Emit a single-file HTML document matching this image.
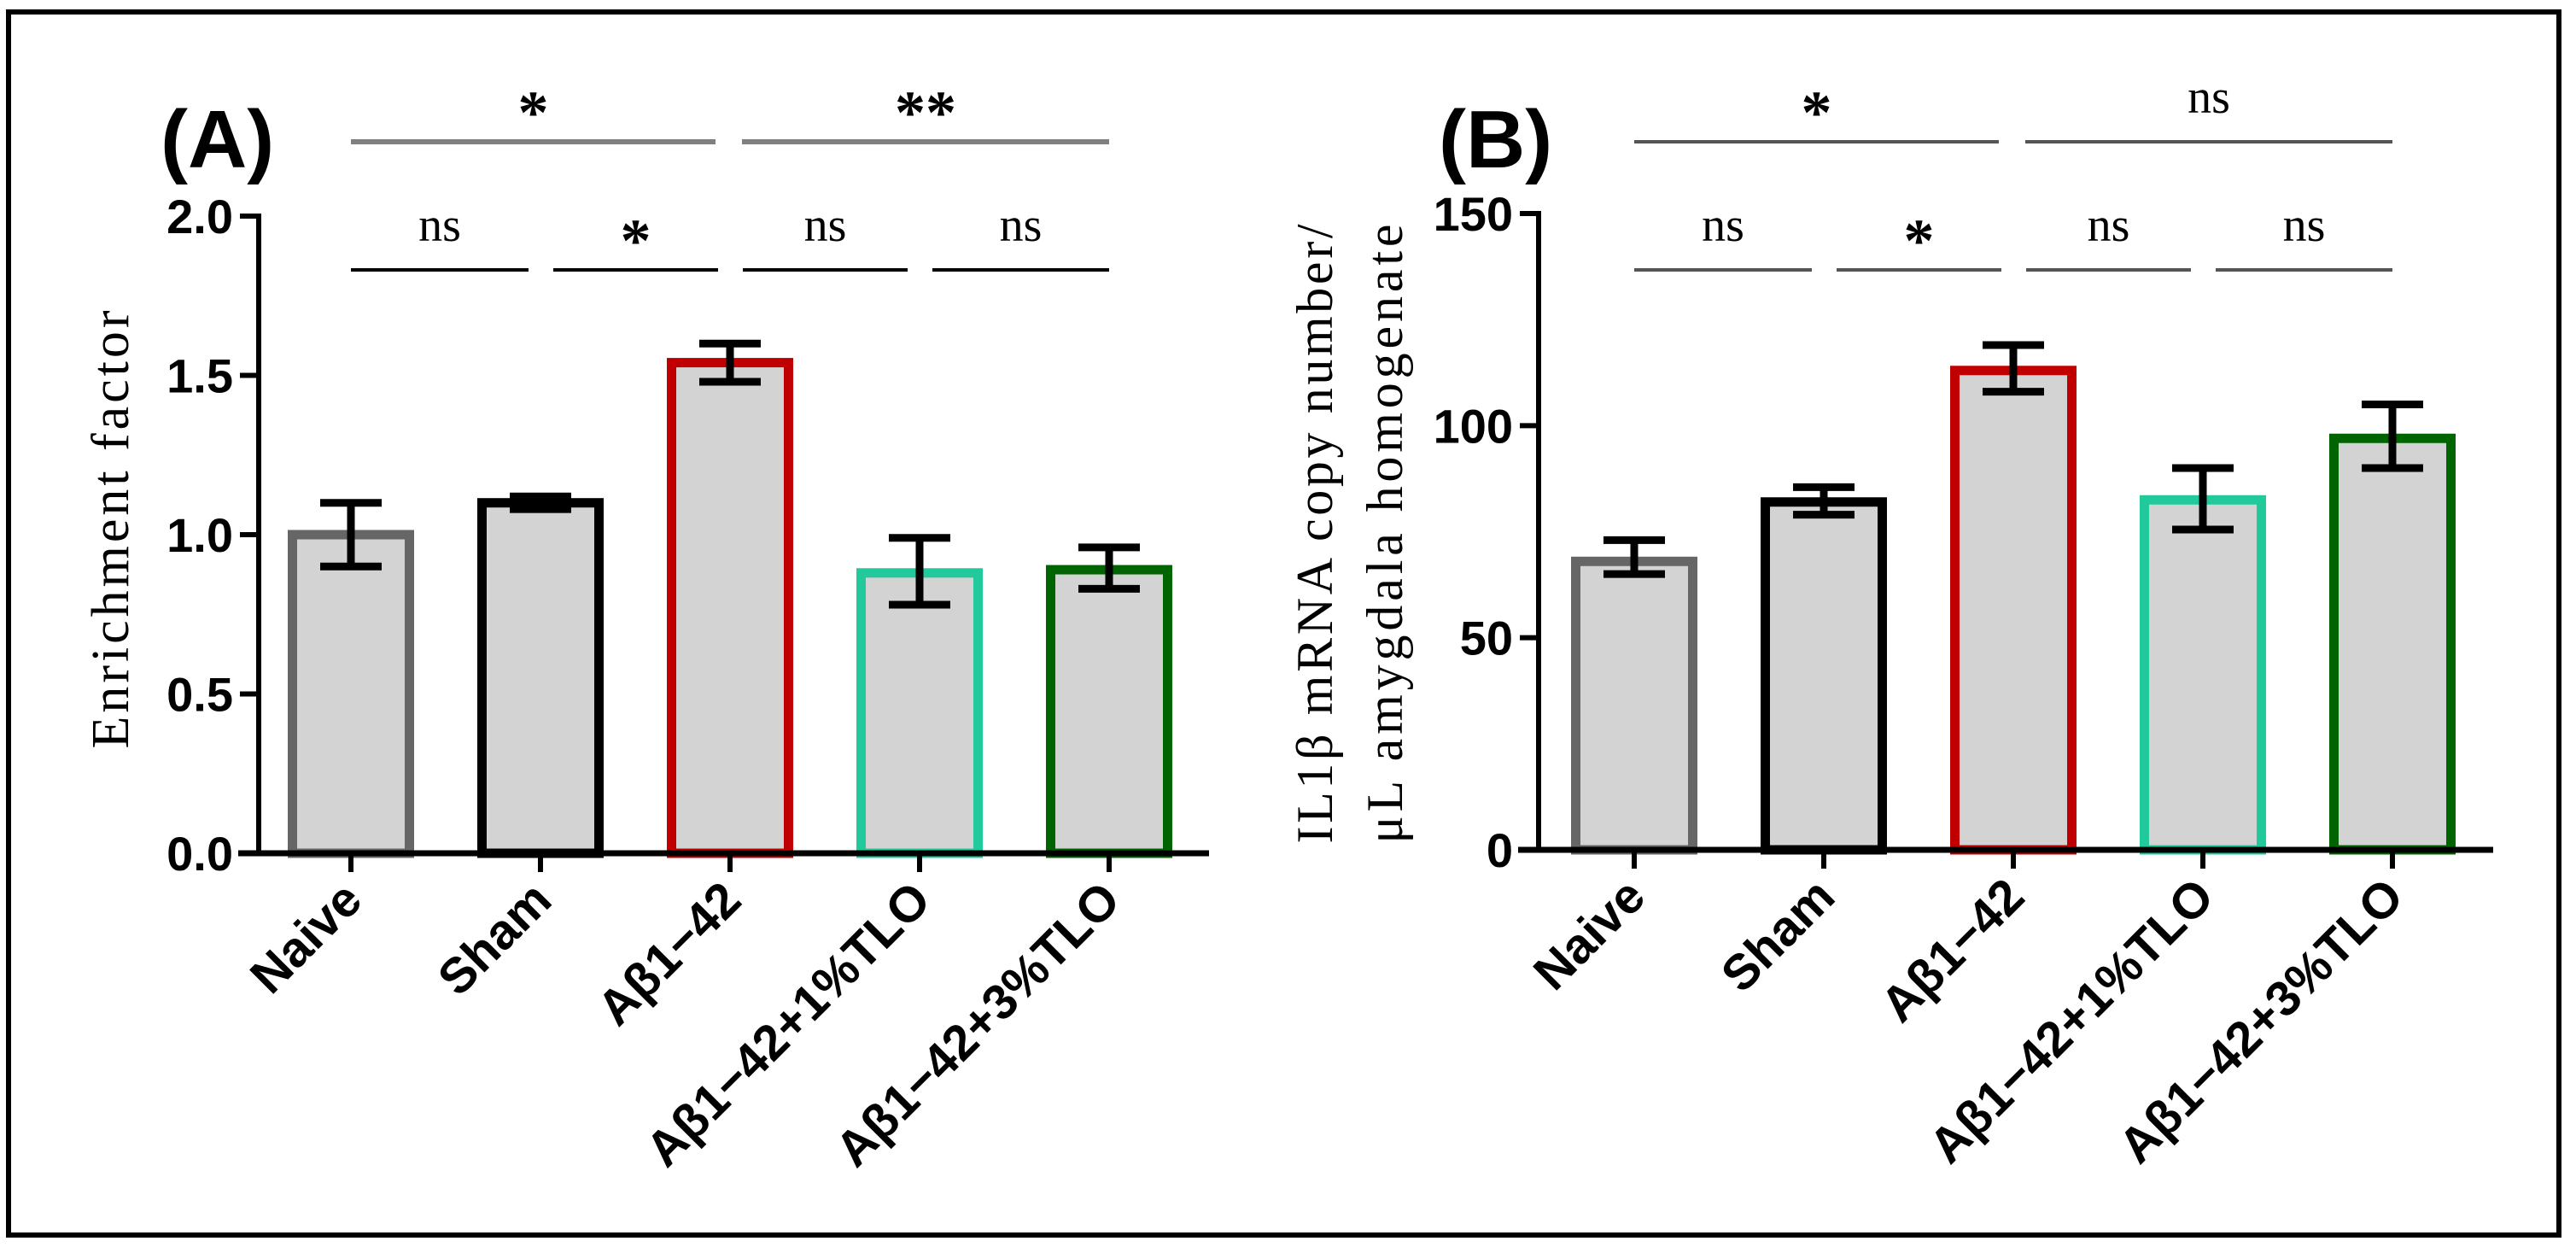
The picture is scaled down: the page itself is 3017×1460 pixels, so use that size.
<!DOCTYPE html>
<html><head><meta charset="utf-8"><style>
html,body{margin:0;padding:0;background:#fff;}
svg{display:block;}
</style></head><body>
<svg id="chart" width="3017" height="1460" viewBox="0 0 3017 1460" xmlns="http://www.w3.org/2000/svg">
<rect x="10" y="14" width="2987" height="1432" fill="none" stroke="#000" stroke-width="6"/>
</svg>
<script>
const categories = ["Naive","Sham","Aβ1−42","Aβ1−42+1%TLO","Aβ1−42+3%TLO"];
const colors = ["#666666","#000000","#c00000","#22c99a","#006400"];
const valuesA = [1.00, 1.10, 1.54, 0.88, 0.89];
const errLowA = [0.90, 1.08, 1.48, 0.78, 0.83];
const errHighA = [1.10, 1.12, 1.60, 0.99, 0.96];
const ticksA = [0, 0.5, 1.0, 1.5, 2.0];
const tickLabelsA = ["0.0","0.5","1.0","1.5","2.0"];
const valuesB = [68, 82, 113, 82.5, 97];
const errLowB = [65, 79, 108, 75.5, 90];
const errHighB = [73, 85.5, 119, 90, 105];
const ticksB = [0, 50, 100, 150];
const tickLabelsB = ["0","50","100","150"];
const sigTopA = ["*","**"];
const sigLowA = ["ns","*","ns","ns"];
const sigTopB = ["*","ns"];
const sigLowB = ["ns","*","ns","ns"];

const NS="http://www.w3.org/2000/svg";
const svg=document.getElementById('chart');
function mk(tag,attrs,parent,txt){const e=document.createElementNS(NS,tag);for(const k in attrs)e.setAttribute(k,attrs[k]);if(txt!==undefined)e.textContent=txt;(parent||svg).appendChild(e);return e;}

function panel(cfg){
  const g=mk('g',{});
  
  
  const y=v=>cfg.y0-(v/cfg.ymax)*(cfg.y0-cfg.ytop);
  const x=i=>cfg.x0+i*222;
  categories.forEach((c,i)=>{
    const v=cfg.values[i];const bw=137;
    const b=mk('rect',{x:x(i)-bw/2,y:y(v),width:bw,height:cfg.y0-y(v),fill:'#d3d3d3',stroke:colors[i],'stroke-width':11},g);
    
    
    const eg=mk('g',{stroke:'#000','stroke-width':9,fill:'none'},g);
    
    
    mk('line',{x1:x(i),x2:x(i),y1:y(cfg.lo[i]),y2:y(cfg.hi[i])},eg);
    mk('line',{x1:x(i)-36,x2:x(i)+36,y1:y(cfg.lo[i]),y2:y(cfg.lo[i])},eg);
    mk('line',{x1:x(i)-36,x2:x(i)+36,y1:y(cfg.hi[i]),y2:y(cfg.hi[i])},eg);
  });
  const ya=mk('line',{x1:cfg.yax,x2:cfg.yax,y1:cfg.ytop-3,y2:cfg.y0+3,stroke:'#000','stroke-width':6},g);
  
  
  const xa=mk('line',{x1:cfg.xaStart,x2:cfg.xaEnd,y1:cfg.y0,y2:cfg.y0,stroke:'#000','stroke-width':7},g);
  
  
  cfg.ticks.forEach((t,i)=>{
    mk('line',{x1:cfg.yax-22,x2:cfg.yax,y1:y(t),y2:y(t),stroke:'#000','stroke-width':6},g);
    const tl=mk('text',{x:cfg.yax-30,y:y(t)+20,'text-anchor':'end','font-family':'Liberation Sans, sans-serif','font-weight':'bold','font-size':56},g,cfg.tickLabels[i]);
    
    
  });
  categories.forEach((c,i)=>{
    mk('line',{x1:x(i),x2:x(i),y1:cfg.y0,y2:cfg.y0+22,stroke:'#000','stroke-width':6},g);
    const t=mk('text',{transform:`translate(${x(i)+16},${cfg.y0+58}) rotate(-45)`,'text-anchor':'end','font-family':'Liberation Sans, sans-serif','font-weight':'bold','font-size':58},g,c);
    
    
  });
  const topSeg=[[x(0),x(2)-17],[x(2)+14,x(4)]];
  topSeg.forEach((s,i)=>{
    mk('line',{x1:s[0],x2:s[1],y1:166,y2:166,stroke:cfg.topColor,'stroke-width':cfg.topW},g);
    const cx=(s[0]+s[1])/2;
    const isStar=cfg.sigTop[i].indexOf('*')>=0;
    const t=mk('text',{x:cx,y:isStar?156:132,'text-anchor':'middle','font-family':'Liberation Serif, serif','font-weight':isStar?'bold':'normal','font-size':isStar?72:56},g,cfg.sigTop[i]);
    
    
  });
  for(let i=0;i<4;i++){
    const s0=x(i)+(i===0?0:15), s1=x(i+1)-(i===3?0:14);
    mk('line',{x1:s0,x2:s1,y1:316,y2:316,stroke:cfg.lowColor,'stroke-width':4},g);
    const isStar=cfg.sigLow[i]==='*';
    const t=mk('text',{x:(s0+s1)/2,y:isStar?306:282,'text-anchor':'middle','font-family':'Liberation Serif, serif','font-weight':isStar?'bold':'normal','font-size':isStar?72:56},g,cfg.sigLow[i]);
    
    
  }
  const pl=mk('text',{x:cfg.labelX,y:196,'font-family':'Liberation Sans, sans-serif','font-weight':'bold','font-size':96},g,cfg.label);
  
  
  return {g,y,x};
}

const A=panel({name:'panel-a',x0:411,y0:999,ytop:253,ymax:2.0,yax:303,xaStart:279,xaEnd:1416,values:valuesA,lo:errLowA,hi:errHighA,ticks:ticksA,tickLabels:tickLabelsA,sigTop:sigTopA,sigLow:sigLowA,topColor:'#808080',topW:6,lowColor:'#000',label:'(A)',labelX:188});
const B=panel({name:'panel-b',x0:1914,y0:995,ytop:250,ymax:150,yax:1802,xaStart:1778,xaEnd:2920,values:valuesB,lo:errLowB,hi:errHighB,ticks:ticksB,tickLabels:tickLabelsB,sigTop:sigTopB,sigLow:sigLowB,topColor:'#555',topW:4,lowColor:'#555',label:'(B)',labelX:1685});

const ta=mk('text',{transform:'translate(150,620) rotate(-90)','text-anchor':'middle','font-family':'Liberation Serif, serif','font-size':62,textLength:513,lengthAdjust:'spacing'},svg,'Enrichment factor');


const tb1=mk('text',{transform:'translate(1560,625) rotate(-90)','text-anchor':'middle','font-family':'Liberation Serif, serif','font-size':60,textLength:725,lengthAdjust:'spacing'},svg,'IL1β mRNA copy number/');


const tb2=mk('text',{transform:'translate(1642,625) rotate(-90)','text-anchor':'middle','font-family':'Liberation Serif, serif','font-size':60,textLength:725,lengthAdjust:'spacing'},svg,'μL amygdala homogenate');


</script>
</body></html>
